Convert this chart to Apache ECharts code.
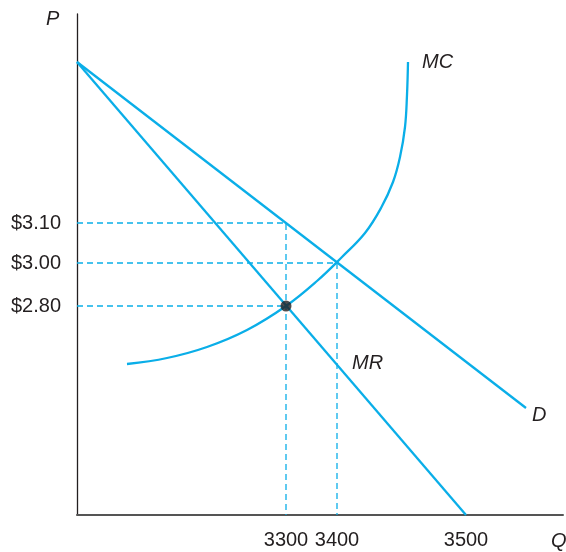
<!DOCTYPE html>
<html>
<head>
<meta charset="utf-8">
<script src="https://cdn.jsdelivr.net/npm/echarts@6/dist/echarts.min.js"></script>
<style>
  html, body { margin: 0; padding: 0; background: #fff; }
  #chart { width: 566px; height: 552px; }
</style>
</head>
<body>
<div id="chart"></div>
<script>
// diagram units (the textbook figure is schematic, not drawn to scale)
const qTicks = [209, 260, 389]
const qLabels = ['3300', '3400', '3500']
const pTicks = [292, 252, 209]
const pLabels = ['$3.10', '$3.00', '$2.80']

const demand = [[0, 453], [449, 107]]
const marginalRevenue = [[0, 453], [389, 0]]
const marginalCost = [
  [50, 151], [90, 157], [130, 168], [170, 185], [209, 209], [240, 234],
  [265, 258], [288, 282], [304, 307], [316, 333], [323, 358], [328, 388],
  [330, 420], [331, 453]
]
const optimum = [[209, 209]]
// dashed guide lines: price 3.10 / 3300, price 3.00 / 3400, price 2.80
const guide310 = [[0, 292], [209, 292], [209, 0]]
const guide300 = [[0, 252], [260, 252], [260, 0]]
const guide280 = [[0, 209], [209, 209]]

const blue = '#0aaee8'
const ink = '#231f20'
const font = '"Liberation Sans", Arial, sans-serif'

function lbl(ticks, labels) {
  return v => {
    const i = ticks.indexOf(v)
    return i >= 0 ? labels[i] : ''
  }
}

function dashed(data) {
  return {
    type: 'line', data: data, symbol: 'none', silent: true,
    lineStyle: { color: blue, width: 1.3, type: [6, 4] }, z: 1
  }
}

let myChart = echarts.init(document.getElementById('chart'))
myChart.setOption({
  animation: false,
  backgroundColor: '#fff',
  grid: { left: 77, top: 14, right: 3, bottom: 37, outerBoundsMode: 'none' },
  xAxis: {
    type: 'value', min: 0, max: 486,
    splitLine: { show: false },
    axisTick: { show: false },
    axisLine: { lineStyle: { color: '#555', width: 2 } },
    axisLabel: {
      customValues: qTicks,
      formatter: lbl(qTicks, qLabels),
      margin: 15, fontSize: 20, color: ink, fontFamily: font
    }
  },
  yAxis: {
    type: 'value', min: 0, max: 501,
    splitLine: { show: false },
    axisTick: { show: false },
    axisLine: { onZero: false, lineStyle: { color: ink, width: 1.3 } },
    axisLabel: {
      customValues: pTicks,
      formatter: lbl(pTicks, pLabels),
      margin: 16, fontSize: 20, color: ink, fontFamily: font,
      padding: [0, 0, 6, 0]
    }
  },
  series: [
    dashed(guide310),
    dashed(guide300),
    dashed(guide280),
    {
      name: 'D', type: 'line', data: demand, symbol: 'none',
      lineStyle: { color: blue, width: 2.3 }, z: 3
    },
    {
      name: 'MR', type: 'line', data: marginalRevenue, symbol: 'none',
      lineStyle: { color: blue, width: 2.3 }, z: 3
    },
    {
      name: 'MC', type: 'line', data: marginalCost, symbol: 'none', smooth: 0.4,
      lineStyle: { color: blue, width: 2.3 }, z: 3
    },
    {
      type: 'scatter', data: optimum, symbolSize: 11,
      itemStyle: { color: ink }, z: 5
    }
  ],
  graphic: [
    { type: 'text', left: 46, top: 9, style: { text: 'P', font: 'italic 20px ' + font, fill: ink } },
    { type: 'text', left: 551, top: 531, style: { text: 'Q', font: 'italic 20px ' + font, fill: ink } },
    { type: 'text', left: 422, top: 52, style: { text: 'MC', font: 'italic 20px ' + font, fill: ink } },
    { type: 'text', left: 352, top: 353, style: { text: 'MR', font: 'italic 20px ' + font, fill: ink } },
    { type: 'text', left: 532, top: 405, style: { text: 'D', font: 'italic 20px ' + font, fill: ink } }
  ]
})
</script>
</body>
</html>
